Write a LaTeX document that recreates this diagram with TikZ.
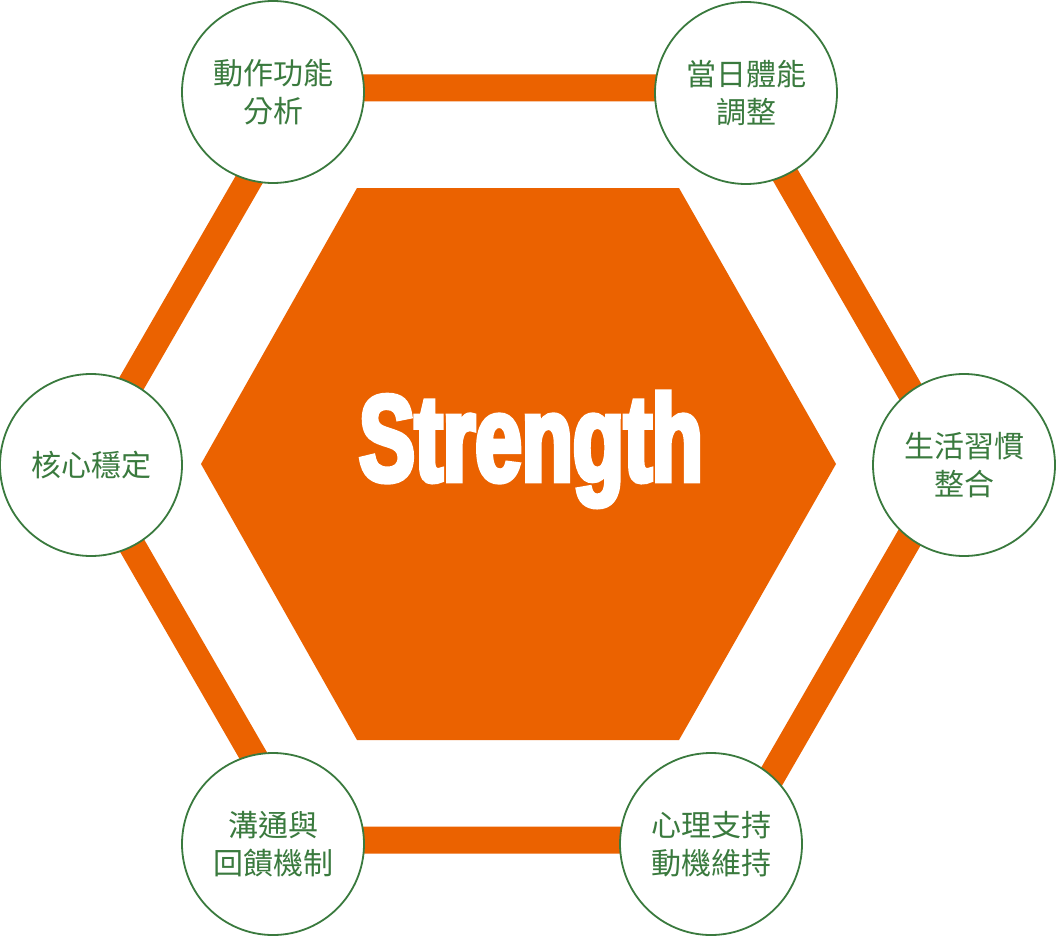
\documentclass[tikz,border=0pt]{standalone}
\usepackage{fontspec}
\newfontfamily\cjk{Noto Sans CJK TC}
\newfontfamily\strfont{Liberation Sans}[FakeStretch=0.68,BoldFeatures={FakeBold=4}]
\definecolor{hexorange}{RGB}{235,98,0}
\definecolor{leafgreen}{RGB}{58,122,62}
\tikzset{
  bar/.style={draw=hexorange,line width=27pt,line join=miter},
  core/.style={fill=hexorange},
  topic/.style={circle,draw=leafgreen,line width=1.8pt,fill=white,minimum size=182pt,inner sep=0pt,
    align=center,text=leafgreen,font=\cjk\fontsize{30}{38}\selectfont},
  title/.style={text=white,font=\strfont\bfseries\fontsize{123}{124}\selectfont,inner sep=0pt,anchor=base}
}
\begin{document}
\begin{tikzpicture}[x=1pt,y=-1pt]
\useasboundingbox (0,0) rectangle (1056,936);
\fill[white] (0,0) rectangle (1056,936);
% outer hexagon vertices
\coordinate (o1) at (85,464);
\coordinate (o2) at (302,88);
\coordinate (o3) at (735,88);
\coordinate (o4) at (952,464);
\coordinate (o5) at (735,840);
\coordinate (o6) at (302,840);
\draw[bar] (o1) -- (o2) -- (o3) -- (o4) -- (o5) -- (o6) -- cycle;
% inner hexagon
\coordinate (i1) at (201,464);
\coordinate (i2) at (357,188);
\coordinate (i3) at (679,188);
\coordinate (i4) at (836,464);
\coordinate (i5) at (679,740);
\coordinate (i6) at (357,740);
\fill[core] (i1) -- (i2) -- (i3) -- (i4) -- (i5) -- (i6) -- cycle;
\node[title] (center) at (531,481) {Strength};
% circles
\node[topic] (tl) at (273,92) {動作功能\\分析};
\node[topic] (tr) at (746,93) {當日體能\\調整};
\node[topic] (r) at (964,465) {生活習慣\\整合};
\node[topic] (l) at (91,465) {核心穩定};
\node[topic] (bl) at (273,844) {溝通與\\回饋機制};
\node[topic] (br) at (711,844) {心理支持\\動機維持};
\end{tikzpicture}
\end{document}
